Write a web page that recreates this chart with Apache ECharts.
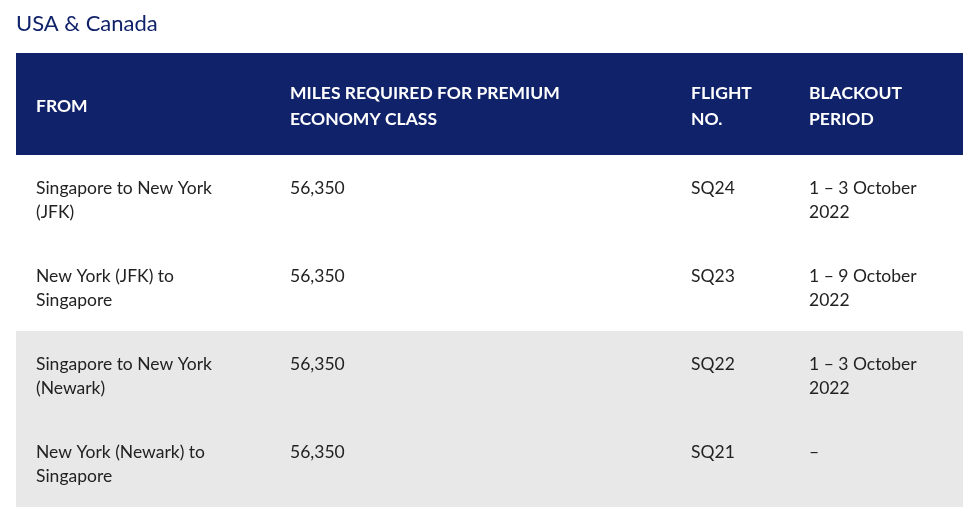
<!DOCTYPE html>
<html>
<head>
<meta charset="utf-8">
<script src="https://cdn.jsdelivr.net/npm/echarts@6/dist/echarts.min.js"></script>
<style>
  html, body { margin: 0; padding: 0; background: #fff; }
  #main { width: 978px; height: 514px; }
</style>
</head>
<body>
<div id="main"></div>
<script>
  // table content
  var title = 'USA & Canada';
  var headers = ['FROM', 'MILES REQUIRED FOR PREMIUM\nECONOMY CLASS', 'FLIGHT\nNO.', 'BLACKOUT\nPERIOD'];
  var routes = [
    'Singapore to New York\n(JFK)',
    'New York (JFK) to\nSingapore',
    'Singapore to New York\n(Newark)',
    'New York (Newark) to\nSingapore'
  ];
  var miles = ['56,350', '56,350', '56,350', '56,350'];
  var flights = ['SQ24', 'SQ23', 'SQ22', 'SQ21'];
  var blackouts = ['1 – 3 October\n2022', '1 – 9 October\n2022', '1 – 3 October\n2022', '–'];
  var shaded = [false, false, true, true]; // grey row background

  var NAVY = '#10226a';
  var GREY = '#e8e8e8';
  var FONT = 'Lato, "Open Sans", sans-serif';
  // column text offsets from the table's left edge
  var colX = [20, 274, 675, 793];

  var chart = echarts.init(document.getElementById('main'));

  var rows = routes.map(function (r, i) { return [i]; });

  var option = {
    animation: false,
    grid: { left: 16, right: 15, top: 155, bottom: 7 },
    xAxis: { type: 'value', min: 0, max: 1, show: false },
    yAxis: {
      type: 'category',
      data: routes.map(function (r, i) { return i; }),
      inverse: true,
      show: false
    },
    graphic: [
      {
        type: 'text',
        left: 16,
        top: 13,
        style: { text: title, fill: NAVY, font: '22px ' + FONT }
      },
      {
        type: 'rect',
        shape: { x: 16, y: 53, width: 947, height: 102 },
        style: { fill: NAVY },
        silent: true
      }
    ].concat(headers.map(function (h, i) {
      return {
        type: 'text',
        x: 16 + colX[i],
        y: 106,
        style: {
          text: h,
          fill: '#fff',
          font: 'bold 17.5px ' + FONT,
          lineHeight: 26,
          verticalAlign: 'middle'
        }
      };
    })),
    series: [{
      type: 'custom',
      data: rows,
      encode: { y: 0 },
      renderItem: function (params, api) {
        var i = api.value(0);
        var cs = params.coordSys;
        var bw = api.size([0, 1])[1];
        var cy = api.coord([0, i])[1];
        var top = cy - bw / 2;
        var cells = [routes[i], miles[i], flights[i], blackouts[i]];
        var children = [{
          type: 'rect',
          shape: { x: cs.x, y: top, width: cs.width, height: bw },
          style: { fill: shaded[i] ? GREY : '#fff' }
        }];
        cells.forEach(function (t, c) {
          children.push({
            type: 'text',
            x: cs.x + colX[c],
            y: top + 21,
            style: {
              text: t,
              fill: '#222',
              font: '17.5px ' + FONT,
              lineHeight: 24,
              verticalAlign: 'top'
            }
          });
        });
        return { type: 'group', children: children };
      }
    }]
  };

  chart.setOption(option);
</script>
</body>
</html>
